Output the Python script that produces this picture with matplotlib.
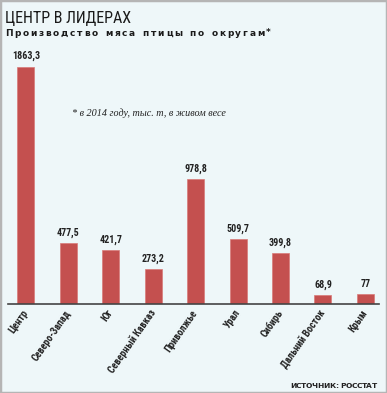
import os
import matplotlib
matplotlib.use("Agg")
import matplotlib.pyplot as plt
from matplotlib import font_manager as fm
from matplotlib.font_manager import FontProperties
from matplotlib.patches import Rectangle

categories = ["Центр", "Северо-Запад", "Юг", "Северный Кавказ", "Приволжье",
              "Урал", "Сибирь", "Дальний Восток", "Крым"]
values = [1863.3, 477.5, 421.7, 273.2, 978.8, 509.7, 399.8, 68.9, 77]
value_labels = ["1863,3", "477,5", "421,7", "273,2", "978,8", "509,7", "399,8", "68,9", "77"]

# ---- font selection: prefer a condensed sans ----
files = sorted({f.fname for f in fm.fontManager.ttflist})
bad_reg = ["bold", "light", "thin", "medium", "black", "semi", "extra", "italic", "oblique", "heavy"]


def find_font(keys, bold):
    for key in keys:
        for p in files:
            b = os.path.basename(p).lower().replace(" ", "")
            if key.lower() not in b:
                continue
            if "italic" in b or "oblique" in b:
                continue
            if bold:
                if "bold" in b and not any(k in b for k in ["semibold", "extrabold", "ultrabold"]):
                    return p
            else:
                if not any(k in b for k in bad_reg):
                    return p
    return None


keys = ["LiberationSansNarrow", "RobotoCondensed", "DejaVuSansCondensed",
        "NotoSans-Condensed", "OpenSans-Condensed", "OpenSansCondensed"]
reg_path = find_font(keys, False)
bold_path = find_font(keys, True)


def fp(path, fallback_weight, size):
    if path:
        return FontProperties(fname=path, size=size)
    return FontProperties(family="Roboto", weight=fallback_weight, size=size)


W, H = 387, 393
fig = plt.figure(figsize=(W / 100, H / 100), dpi=100)
bg = "#eef7f9"
fig.patch.set_facecolor(bg)
fig.patches.append(Rectangle((0, 0), 1, 1, transform=fig.transFigure, fill=False,
                             edgecolor="#b5b5b5", linewidth=2.5))

ax = fig.add_axes([8 / W, (H - 304) / H, (379 - 8) / W, (304 - 60) / H])
ax.set_facecolor(bg)
x = list(range(len(categories)))
ax.bar(x, values, width=0.4, color="#c4504f", edgecolor="#d87a78", linewidth=0.5)
ax.set_xlim(-0.42, 8.32)
ax.set_ylim(0, 1918)
for s in ["top", "right", "left"]:
    ax.spines[s].set_visible(False)
ax.spines["bottom"].set_color("#444444")
ax.spines["bottom"].set_linewidth(1.2)
ax.set_yticks([])
ax.set_xticks(x)
ax.set_xticklabels(categories, rotation=55, ha="right", va="center",
                   rotation_mode="anchor", fontproperties=fp(bold_path, "bold", 7.2),
                   color="#222222")
ax.tick_params(axis="x", length=0, pad=5)

for xi, v, lab in zip(x, values, value_labels):
    ax.annotate(lab, (xi, v), xytext=(0, 4), textcoords="offset points",
                ha="center", va="bottom", fontproperties=fp(bold_path, "bold", 7.2),
                color="#222222")

fig.text(5 / W, 1 - 18 / H, "ЦЕНТР В ЛИДЕРАХ", fontproperties=fp(reg_path, "normal", 11.5),
         color="#1a1a1a", va="center", ha="left")

renderer = fig.canvas.get_renderer()


def spaced(text, x0, x1, y0, **kw):
    """Place characters one by one with equal tracking to span x0..x1 (pixels)."""
    widths = []
    for ch in text:
        t = fig.text(0, 0, ch if ch != " " else "n", **kw)
        widths.append(t.get_window_extent(renderer).width * (0.6 if ch == " " else 1.0))
        t.remove()
    n = len(text)
    track = (x1 - x0 - sum(widths)) / max(n - 1, 1)
    xp = x0
    for ch, w in zip(text, widths):
        if ch != " ":
            fig.text(xp / W, 1 - y0 / H, ch, va="center", ha="left", **kw)
        xp += w + track


spaced("Производство мяса птицы по округам*", 5, 271, 33,
       fontsize=6.5, fontweight="bold", color="#1a1a1a")

fig.text(72 / W, 1 - 113 / H, "* в 2014 году, тыс. т, в живом весе",
         family="Liberation Serif", style="italic", fontsize=7.3,
         color="#222222", va="center", ha="left")

spaced("ИСТОЧНИК: РОССТАТ", 290, 377, 386, fontsize=5.4, fontweight="bold",
       color="#222222")

fig.savefig("out.png", dpi=100, facecolor=bg)
